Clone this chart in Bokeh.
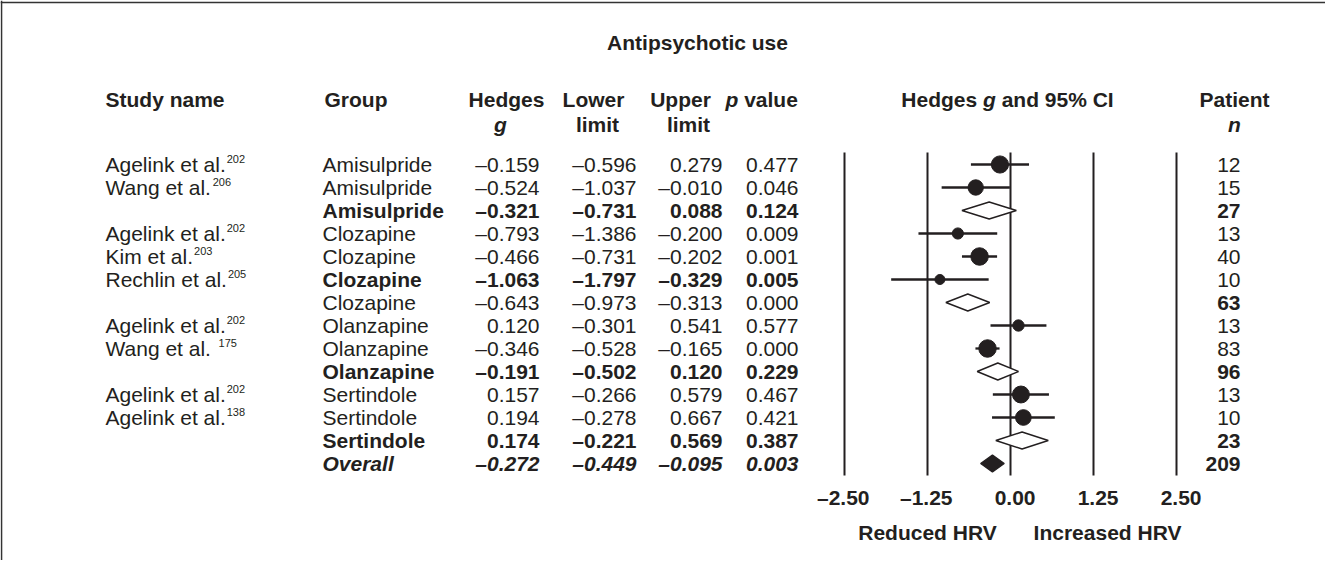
import math
from bokeh.plotting import figure
from bokeh.models import Range1d, Span
from bokeh.core.properties import value
from bokeh.embed import file_html
from bokeh.resources import INLINE

# ---------------- data ----------------
study_names = ["Agelink et al.", "Wang et al.", "", "Agelink et al.", "Kim et al.",
               "Rechlin et al.", "", "Agelink et al.", "Wang et al. ", "",
               "Agelink et al.", "Agelink et al.", "", ""]
study_refs = ["202", "206", "", "202", "203", "205", "", "202", "175", "",
              "202", "138", "", ""]
groups = ["Amisulpride", "Amisulpride", "Amisulpride", "Clozapine", "Clozapine",
          "Clozapine", "Clozapine", "Olanzapine", "Olanzapine", "Olanzapine",
          "Sertindole", "Sertindole", "Sertindole", "Overall"]
hedges_g = [-0.159, -0.524, -0.321, -0.793, -0.466, -1.063, -0.643, 0.120, -0.346,
            -0.191, 0.157, 0.194, 0.174, -0.272]
lower_limit = [-0.596, -1.037, -0.731, -1.386, -0.731, -1.797, -0.973, -0.301, -0.528,
               -0.502, -0.266, -0.278, -0.221, -0.449]
upper_limit = [0.279, -0.010, 0.088, -0.200, -0.202, -0.329, -0.313, 0.541, -0.165,
               0.120, 0.579, 0.667, 0.569, -0.095]
p_values = [0.477, 0.046, 0.124, 0.009, 0.001, 0.005, 0.000, 0.577, 0.000, 0.229,
            0.467, 0.421, 0.387, 0.003]
patient_n = [12, 15, 27, 13, 40, 10, 63, 13, 83, 96, 13, 10, 23, 209]
row_kind = ["study", "study", "subtotal", "study", "study", "study", "subtotal",
            "study", "study", "subtotal", "study", "study", "subtotal", "overall"]
axis_ticks = [-2.5, -1.25, 0.0, 1.25, 2.5]
axis_tick_labels = ["\u20132.50", "\u20131.25", "0.00", "1.25", "2.50"]

# ---------------- styles ----------------
table_style = ["normal", "normal", "bold", "normal", "normal", "bold", "normal",
               "normal", "normal", "bold", "normal", "normal", "bold", "bold italic"]
n_style = ["normal", "normal", "bold", "normal", "normal", "normal", "bold",
           "normal", "normal", "bold", "normal", "normal", "bold", "bold"]

FONT = "Liberation Sans"
INK = "#231f20"
FS = 21  # px

# ---------------- layout ----------------
W, H = 1325, 560
OFF = 8
ROW0_Y, PITCH = 172, 23.0
ZERO_X, PX_PER_G = 1018.0, 66.4


def ry(py):
    return 1 + (py - ROW0_Y) / PITCH


rows = list(range(1, len(groups) + 1))

p = figure(width=W, height=H, output_backend="svg", toolbar_location=None,
           x_range=Range1d(OFF, OFF + W), y_range=Range1d(ry(OFF + H), ry(OFF)),
           x_axis_location=None, y_axis_location=None, min_border=0,
           outline_line_color=None, background_fill_color="white",
           border_fill_color="white")
p.grid.visible = False
p.extra_x_ranges = {"g": Range1d((OFF - ZERO_X) / PX_PER_G, (OFF + W - ZERO_X) / PX_PER_G)}

# frame border (top and left)
p.add_layout(Span(location=ry(10), dimension="width", line_color="#333333", line_width=1.6))
p.add_layout(Span(location=9, dimension="height", line_color="#333333", line_width=1.6))


def txt(xs, ys, texts, align="left", style="normal", size=FS, rng="default"):
    p.text(x=xs, y=ys, text=texts, text_align=align, text_baseline="middle",
           text_font=value(FONT), text_font_size=value(f"{size}px"),
           text_font_style=style, text_color=INK, x_range_name=rng)


def fmt(v):
    s = f"{abs(v):.3f}"
    return ("\u2013" + s) if v < 0 else s


# ---------------- headers ----------------
Y_TITLE, Y_H1, Y_H2 = ry(50), ry(107), ry(132)
txt([705], [Y_TITLE], ["Antipsychotic use"], "center", "bold")
txt([113], [Y_H1], ["Study name"], "left", "bold")
txt([332], [Y_H1], ["Group"], "left", "bold")
txt([514, 601, 688], [Y_H1] * 3, ["Hedges", "Lower", "Upper"], "center", "bold")
txt([508], [Y_H2], ["g"], "center", "bold italic")
txt([605, 696], [Y_H2] * 2, ["limit", "limit"], "center", "bold")
txt([733], [Y_H1], ["p"], "left", "bold italic")
txt([733 + (611 + 278) * FS / 1000], [Y_H1], ["value"], "left", "bold")

# forest header "Hedges g and 95% CI"
w1, w2, w3 = 3.890 * FS, 0.611 * FS, 5.613 * FS
hx0 = 1015 - (w1 + w2 + w3) / 2
txt([hx0], [Y_H1], ["Hedges"], "left", "bold")
txt([hx0 + w1], [Y_H1], ["g"], "left", "bold italic")
txt([hx0 + w1 + w2 + 0.278 * FS], [Y_H1], ["and 95% CI"], "left", "bold")
txt([1242], [Y_H1], ["Patient"], "center", "bold")
txt([1242], [Y_H2], ["n"], "center", "bold italic")

# ---------------- table body ----------------
ARIAL = {'A': 667, 'g': 556, 'e': 556, 'l': 222, 'i': 222, 'n': 556, 'k': 500, ' ': 278,
         't': 278, 'a': 556, '.': 278, 'W': 944, 'K': 667, 'm': 833, 'R': 722, 'c': 500,
         'h': 556}

NAME_X = 113
names_i = [i for i, s in enumerate(study_names) if s]
txt([NAME_X] * len(names_i), [rows[i] for i in names_i], [study_names[i] for i in names_i])
sup_x = [NAME_X + sum(ARIAL.get(c, 556) for c in study_names[i]) * FS / 1000 + 1 for i in names_i]
txt(sup_x, [rows[i] - 6 / PITCH for i in names_i], [study_refs[i] for i in names_i],
    "left", "normal", 11)

COL_GROUP_X = 330
COLS_R = [547, 644, 730, 806]
for st in ["normal", "bold", "bold italic"]:
    idx = [i for i, s in enumerate(table_style) if s == st]
    if not idx:
        continue
    ys = [rows[i] for i in idx]
    txt([COL_GROUP_X] * len(idx), ys, [groups[i] for i in idx], "left", st)
    for cx, arr in zip(COLS_R, [hedges_g, lower_limit, upper_limit, p_values]):
        txt([cx] * len(idx), ys, [fmt(arr[i]) for i in idx], "right", st)

for st in ["normal", "bold"]:
    idx = [i for i, s in enumerate(n_style) if s == st]
    txt([1248] * len(idx), [rows[i] for i in idx], [str(patient_n[i]) for i in idx], "right", st)

# ---------------- forest plot ----------------
LINE_TOP, LINE_BOT = ry(160), ry(483)
p.segment(x0=axis_ticks, x1=axis_ticks, y0=[LINE_TOP] * 5, y1=[LINE_BOT] * 5,
          line_color=INK, line_width=2, x_range_name="g")

st_i = [i for i, k in enumerate(row_kind) if k == "study"]
p.segment(x0=[lower_limit[i] for i in st_i], x1=[upper_limit[i] for i in st_i],
          y0=[rows[i] for i in st_i], y1=[rows[i] for i in st_i],
          line_color=INK, line_width=2.3, x_range_name="g")

# marker size from relative inverse-variance weight within group
wts = [1.0 / (((upper_limit[i] - lower_limit[i]) / 3.92) ** 2) for i in range(len(rows))]
diam = []
for i in st_i:
    tot = sum(wts[j] for j in st_i if groups[j] == groups[i])
    diam.append(min(17.5, 5 + 16 * math.sqrt(wts[i] / tot)))
p.scatter(x=[hedges_g[i] for i in st_i], y=[rows[i] for i in st_i], size=diam,
          marker="circle", fill_color=INK, line_color=INK, x_range_name="g")

HALF = 8.5 / PITCH
for kind, fill in [("subtotal", "white"), ("overall", INK)]:
    idx = [i for i, k in enumerate(row_kind) if k == kind]
    xs = [[lower_limit[i], hedges_g[i], upper_limit[i], hedges_g[i]] for i in idx]
    ys = [[rows[i], rows[i] - HALF, rows[i], rows[i] + HALF] for i in idx]
    p.patches(xs=xs, ys=ys, fill_color=fill, line_color=INK, line_width=1.4, x_range_name="g")

# tick labels (right aligned a little right of each line)
txt([t + 25 / PX_PER_G for t in axis_ticks], [ry(505)] * 5, axis_tick_labels, "right", "bold",
    FS, "g")
txt([935, 1115], [ry(540)] * 2, ["Reduced HRV", "Increased HRV"], "center", "bold")

open("out.html", "w").write(file_html(p, INLINE))
